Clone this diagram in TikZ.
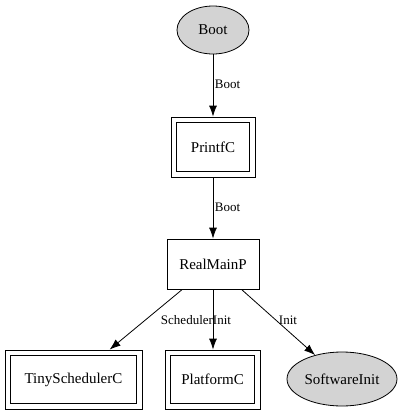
\documentclass[tikz,border=0pt]{standalone}
\usepackage{fontspec}
\setmainfont{Liberation Serif}
\usetikzlibrary{shapes.geometric,arrows.meta}
\definecolor{nodegray}{HTML}{D3D3D3}
\tikzstyle{comp}=[rectangle,draw=black,fill=white,line width=0.8pt,inner sep=0pt,anchor=center,font=\fontsize{15}{18}\selectfont]
\tikzstyle{dcomp}=[comp,path picture={\draw[line width=0.8pt] ([shift={(5.5pt,5.5pt)}]path picture bounding box.south west) rectangle ([shift={(-5.5pt,-5.5pt)}]path picture bounding box.north east);}]
\tikzstyle{iface}=[ellipse,draw=black,fill=nodegray,line width=0.8pt,inner sep=0pt,anchor=center,font=\fontsize{15}{18}\selectfont]
\tikzstyle{wire}=[line width=0.8pt,-{Latex[length=11pt,width=8pt]}]
\tikzstyle{annot}=[align=center,inner sep=0pt,font=\fontsize{13}{15}\selectfont]

\begin{document}
\begin{tikzpicture}[x=1pt,y=1pt]
	\useasboundingbox (0,0) rectangle (403,-416);

	\node[iface, minimum width=72, minimum height=48](boot) at (213,-30){Boot};
	\node[dcomp, minimum width=84, minimum height=60](printf) at (213,-147){PrintfC};
	\node[comp, minimum width=92, minimum height=50](realmain) at (213,-264){RealMainP};
	\node[dcomp, minimum width=137, minimum height=59](tinysched) at (73.5,-379.5){TinySchedulerC};
	\node[dcomp, minimum width=95, minimum height=59](platform) at (212.5,-379.5){PlatformC};
	\node[iface, minimum width=110, minimum height=54](swinit) at (342,-379){SoftwareInit};

	%\draw[wire] (boot) -- (realmain);
	\draw[wire] (boot) -- (printf);
	\draw[wire] (printf) -- (realmain);
	\draw[wire] (realmain) -- (tinysched);
	\draw[wire] (realmain) -- (realmain |- platform.north);
	\draw[wire] (realmain) -- (swinit);

	\node[annot](l1) at (227.5,-84){Boot};
	\node[annot](l2) at (227.5,-207){Boot};
	\node[annot](l3) at (196,-320){SchedulerInit};
	\node[annot](l4) at (288,-320){Init};

\end{tikzpicture}
\end{document}
